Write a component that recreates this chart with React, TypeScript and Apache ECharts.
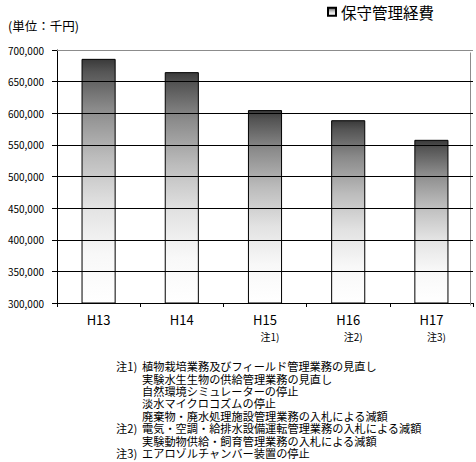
// 保守管理経費の推移 — H13〜H17 の棒グラフ（グラデーション塗り）と注記。
import * as React from "react";
import * as echarts from "echarts";

const years = ["H13", "H14", "H15", "H16", "H17"];
const costs = [686000, 665000, 605000, 589000, 558000];
const yearNotes = ["", "", "注1)", "注2)", "注3)"];
const gridValues = [350000, 400000, 450000, 500000, 550000, 600000, 650000];
const seriesName = "保守管理経費";
const unitLabel = "(単位：千円)";

// 注記の各行: [見出し, 本文]
const noteLines: [string, string][] = [
  ["注1)", "植物栽培業務及びフィールド管理業務の見直し"],
  ["", "実験水生生物の供給管理業務の見直し"],
  ["", "自然環境シミュレーターの停止"],
  ["", "淡水マイクロコズムの停止"],
  ["", "廃棄物・廃水処理施設管理業務の入札による減額"],
  ["注2)", "電気・空調・給排水設備運転管理業務の入札による減額"],
  ["", "実験動物供給・飼育管理業務の入札による減額"],
  ["注3)", "エアロゾルチャンバー装置の停止"],
];

const FONT = "'Noto Sans CJK JP', 'Noto Sans', sans-serif";

export default function App() {
  const ref = React.useRef<HTMLDivElement | null>(null);

  React.useEffect(() => {
    document.body.style.margin = "0";
    if (!ref.current) return;
    const chart = echarts.init(ref.current, undefined, { renderer: "svg" });

    const barFill = new echarts.graphic.LinearGradient(0, 0, 0, 1, [
      { offset: 0, color: "#3a3a3a" },
      { offset: 0.05, color: "#555555" },
      { offset: 0.2, color: "#8a8a8a" },
      { offset: 0.4, color: "#bcbcbc" },
      { offset: 0.6, color: "#e2e2e2" },
      { offset: 0.8, color: "#f8f8f8" },
      { offset: 1, color: "#ffffff" },
    ]);

    const noteStyle = { font: `11.2px ${FONT}`, fill: "#000", lineHeight: 12.4 };
    const noteTexts = [
      {
        type: "text", left: 116, top: 360,
        style: { ...noteStyle, text: noteLines.map((l) => l[0] || " ").join("\n") },
      },
      {
        type: "text", left: 142, top: 360,
        style: { ...noteStyle, text: noteLines.map((l) => l[1]).join("\n") },
      },
    ];

    chart.setOption({
      animation: false,
      backgroundColor: "#fff",
      textStyle: { fontFamily: FONT },
      title: {
        text: unitLabel, left: 3, top: 14,
        textStyle: { fontSize: 12.5, fontWeight: "normal", color: "#000", fontFamily: FONT },
      },
      legend: {
        left: 327, top: 4, padding: 0,
        icon: "rect", itemWidth: 8, itemHeight: 8, itemGap: 4,
        textStyle: { fontSize: 15.5, color: "#000", fontFamily: FONT },
        data: [seriesName],
      },
      grid: { left: 57, right: 3, top: 50, bottom: 159 },
      xAxis: {
        type: "category",
        data: years,
        axisLine: { show: true, lineStyle: { color: "#000", width: 1 } },
        axisTick: { show: true, length: 4, lineStyle: { color: "#000" } },
        axisLabel: {
          margin: 8,
          formatter: (v: string, i: number) =>
            yearNotes[i] ? `{c|${v}}\n{n|${yearNotes[i]}}` : `{c|${v}}`,
          rich: {
            c: { fontSize: 13, color: "#000", fontFamily: FONT, lineHeight: 17 },
            n: { fontSize: 10, color: "#000", fontFamily: FONT, lineHeight: 16, padding: [0, 0, 0, 10] },
          },
        },
      },
      yAxis: {
        type: "value",
        min: 300000, max: 700000, interval: 50000,
        axisLine: { show: true, lineStyle: { color: "#000", width: 1 } },
        axisTick: { show: true, length: 5, lineStyle: { color: "#000" } },
        axisLabel: {
          margin: 13, fontSize: 10, color: "#000", fontFamily: FONT,
          formatter: (v: number) => v.toLocaleString("en-US"),
        },
        splitLine: { show: false },
      },
      series: [
        {
          // 目盛線（黒）と上辺の枠（灰色）— 棒の背面に描く
          type: "line", data: [], z: 1, silent: true,
          markLine: {
            silent: true, symbol: "none", label: { show: false },
            data: [
              ...gridValues.map((v) => ({ yAxis: v, lineStyle: { color: "#000", width: 1, type: "solid" } })),
              { yAxis: 700000, lineStyle: { color: "#8c8c8c", width: 1, type: "solid" } },
            ],
          },
        },
        {
          name: seriesName,
          type: "bar",
          z: 2,
          data: costs,
          barWidth: "41%",
          itemStyle: { color: barFill, borderColor: "#000", borderWidth: 1 },
        },
      ],
      graphic: [
        ...noteTexts,
        {
          // 右辺の枠線
          type: "line", right: 3, top: 50, z: 1,
          shape: { x1: 0, y1: 0, x2: 0, y2: 253 },
          style: { stroke: "#8c8c8c", lineWidth: 1 },
        },
      ],
    });

    return () => chart.dispose();
  }, []);

  return <div ref={ref} style={{ width: 476, height: 462 }} />;
}
